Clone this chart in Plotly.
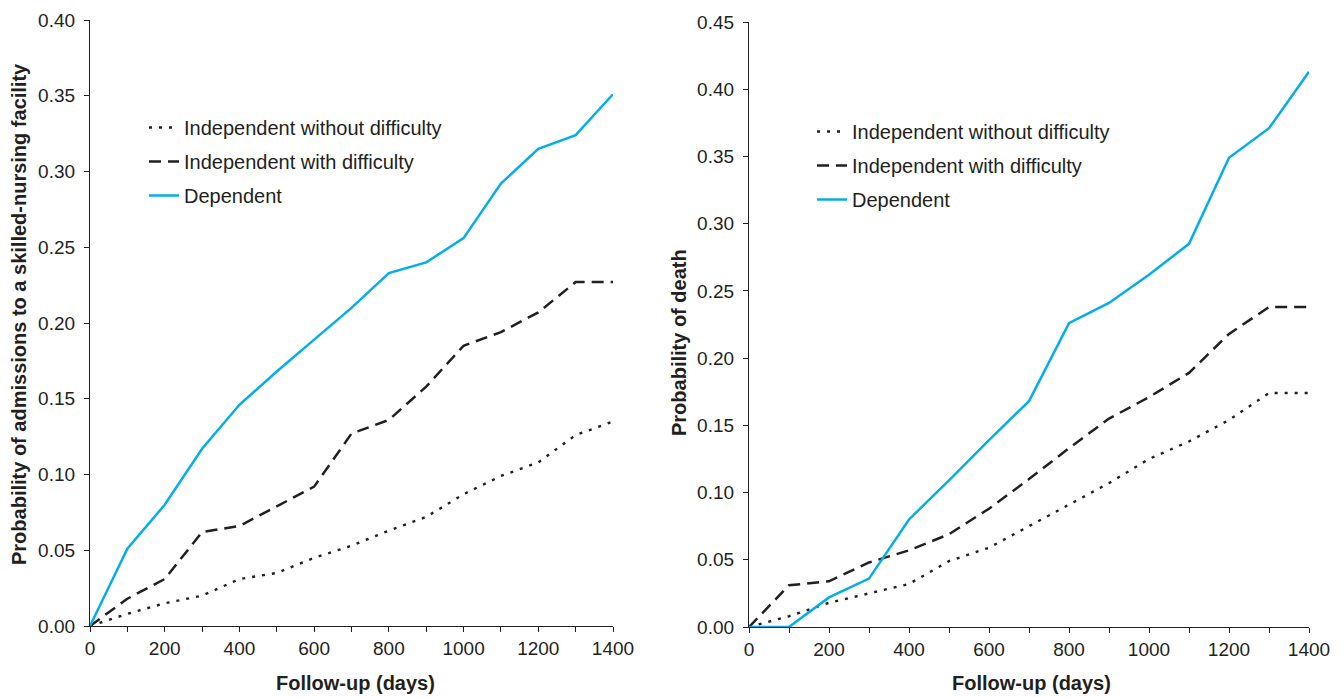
import plotly.graph_objects as go

days = [0, 100, 200, 300, 400, 500, 600, 700, 800, 900, 1000, 1100, 1200, 1300, 1400]

snf_without = [0, 0.008, 0.015, 0.020, 0.031, 0.035, 0.045, 0.053, 0.063, 0.072, 0.087, 0.099, 0.108, 0.126, 0.135]
snf_with = [0, 0.018, 0.031, 0.062, 0.066, 0.079, 0.092, 0.127, 0.136, 0.158, 0.185, 0.194, 0.207, 0.227, 0.227]
snf_dep = [0, 0.051, 0.080, 0.117, 0.146, 0.168, 0.189, 0.210, 0.233, 0.240, 0.256, 0.292, 0.315, 0.324, 0.351]

death_without = [0, 0.008, 0.018, 0.025, 0.032, 0.049, 0.059, 0.075, 0.091, 0.107, 0.125, 0.138, 0.154, 0.174, 0.174]
death_with = [0, 0.031, 0.034, 0.048, 0.057, 0.069, 0.088, 0.110, 0.133, 0.155, 0.171, 0.189, 0.218, 0.238, 0.238]
death_dep = [0, 0, 0.022, 0.036, 0.080, 0.109, 0.139, 0.168, 0.226, 0.241, 0.262, 0.285, 0.349, 0.371, 0.413]

names = ["Independent without difficulty", "Independent with difficulty", "Dependent"]
BLUE = "#05AEEA"
DARK = "#231F20"
styles = [dict(color=DARK, width=2.4, dash="3px,7px"),
          dict(color=DARK, width=2.5, dash="12px,7px"),
          dict(color=BLUE, width=2.5, dash="solid")]

TICKFONT = dict(family="Liberation Sans, Arial", size=19, color="#231F20")
LEGFONT = dict(family="Liberation Sans, Arial", size=20, color="#231F20")
TITLEFONT = dict(family="Liberation Sans, Arial", size=20, color="#231F20")

fig = go.Figure()
for i, (ys, nm) in enumerate(zip([snf_without, snf_with, snf_dep], names)):
    fig.add_trace(go.Scatter(x=days, y=ys, mode="lines", name=nm, line=styles[i],
                             xaxis="x", yaxis="y", legend="legend", legendgroup="a%d" % i))
for i, (ys, nm) in enumerate(zip([death_without, death_with, death_dep], names)):
    fig.add_trace(go.Scatter(x=days, y=ys, mode="lines", name=nm, line=styles[i],
                             xaxis="x2", yaxis="y2", legend="legend2", legendgroup="b%d" % i))

# page body has an 8px margin; figure sized to fill the rest of the window
OFF = 8
W, H = 1344 - OFF, 697 - OFF
def px(x):
    return (x - OFF) / W
def py(y):
    return 1 - (y - OFF) / H

xcommon = dict(range=[0, 1400], dtick=200, tick0=0, showgrid=False, zeroline=False,
               showline=True, linecolor="#231F20", linewidth=1.2, ticks="outside",
               ticklen=5, tickcolor="#231F20", tickfont=TICKFONT, automargin=False,
               minor=dict(dtick=100, ticks="outside", ticklen=5, tickcolor="#231F20"))
ycommon = dict(showgrid=False, zeroline=False, showline=True, linecolor="#231F20",
               linewidth=1.2, ticks="outside", ticklen=5, tickcolor="#231F20",
               tickfont=TICKFONT, tickformat=".2f", automargin=False, ticklabelstandoff=5)

fig.update_layout(
    width=W, height=H, paper_bgcolor="white", plot_bgcolor="white",
    margin=dict(l=0, r=0, t=0, b=0, autoexpand=False),
    showlegend=True,
    xaxis=dict(domain=[px(90), px(613)], anchor="y", **xcommon),
    yaxis=dict(domain=[py(626), py(20)], anchor="x", range=[0, 0.40], dtick=0.05, **ycommon),
    xaxis2=dict(domain=[px(749), px(1309)], anchor="y2", **xcommon),
    yaxis2=dict(domain=[py(627), py(22)], anchor="x2", range=[0, 0.45], dtick=0.05, **ycommon),
    legend=dict(x=px(144), y=py(108), xanchor="left", yanchor="top", bgcolor="rgba(0,0,0,0)",
                font=LEGFONT, tracegroupgap=5, traceorder="grouped"),
    legend2=dict(x=px(812), y=py(112), xanchor="left", yanchor="top", bgcolor="rgba(0,0,0,0)",
                 font=LEGFONT, tracegroupgap=5, traceorder="grouped"),
    annotations=[
        dict(text="<b>Follow-up (days)</b>", x=px(355), y=py(683), xref="paper", yref="paper",
             showarrow=False, font=TITLEFONT, xanchor="center", yanchor="middle"),
        dict(text="<b>Follow-up (days)</b>", x=px(1031), y=py(683), xref="paper", yref="paper",
             showarrow=False, font=TITLEFONT, xanchor="center", yanchor="middle"),
        dict(text="<b>Probability of admissions to a skilled-nursing facility</b>", x=px(19), y=py(314),
             xref="paper", yref="paper", showarrow=False, font=TITLEFONT, textangle=-90,
             xanchor="center", yanchor="middle"),
        dict(text="<b>Probability of death</b>", x=px(679), y=py(343),
             xref="paper", yref="paper", showarrow=False, font=TITLEFONT, textangle=-90,
             xanchor="center", yanchor="middle"),
    ],
)

fig.write_html("out.html")
